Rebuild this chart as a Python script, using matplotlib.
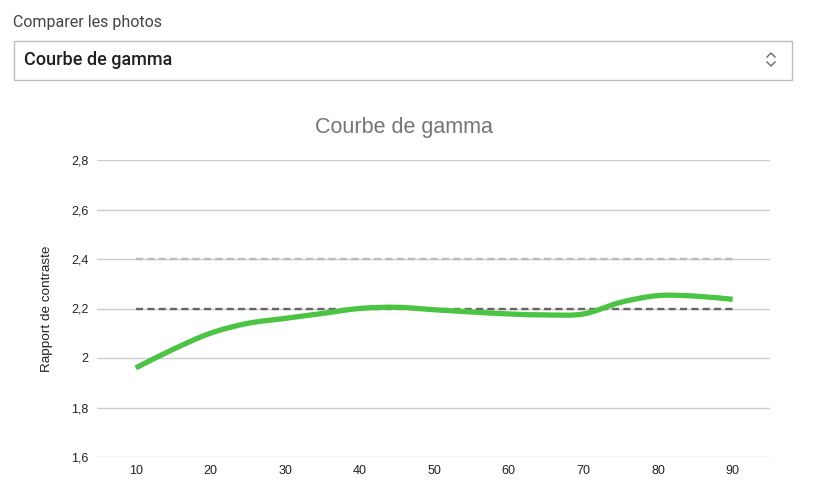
import matplotlib.pyplot as plt
from matplotlib.path import Path
from matplotlib.patches import PathPatch, FancyBboxPatch
from matplotlib.lines import Line2D
import numpy as np

# Données
x_vals = [10, 15, 20, 25, 30, 35, 40, 45, 50, 55, 60, 65, 70, 75, 80, 85, 90]
gamma = [1.96, 2.035, 2.10, 2.14, 2.16, 2.18, 2.20, 2.205, 2.195, 2.186,
         2.178, 2.174, 2.178, 2.225, 2.252, 2.25, 2.237]
ref_haute = 2.4
ref_basse = 2.2
y_ticks = [1.6, 1.8, 2.0, 2.2, 2.4, 2.6, 2.8]
y_labels = ["1,6", "1,8", "2", "2,2", "2,4", "2,6", "2,8"]
x_ticks = [10, 20, 30, 40, 50, 60, 70, 80, 90]

W, H = 834, 488
fig = plt.figure(figsize=(W / 100, H / 100), dpi=100)

# En-tête de la page
fig.text(13 / W, 1 - 23 / H, "Comparer les photos", fontsize=11.5,
         family="Roboto", color="#444444", va="center", ha="left")
box = FancyBboxPatch((13.5 / W, 1 - 79.5 / H), 778 / W, 39 / H,
                     boxstyle="square,pad=0", transform=fig.transFigure,
                     facecolor="white", edgecolor="#bdbdbd", linewidth=1)
fig.patches.append(box)
fig.text(24 / W, 1 - 60 / H, "Courbe de gamma", fontsize=13,
         family="Roboto", weight="medium", color="#212121",
         va="center", ha="left")
# petite icône de sélection (chevrons)
for ys in [(57, 53, 57), (62, 66, 62)]:
    fig.add_artist(Line2D([767 / W, 771 / W, 775 / W],
                          [1 - ys[0] / H, 1 - ys[1] / H, 1 - ys[2] / H],
                          transform=fig.transFigure, color="#757575",
                          linewidth=1.1))

# Zone du graphique
ax = fig.add_axes([97 / W, 1 - 457 / H, 673 / W, 297 / H])
ax.set_xlim(4.8, 95)
ax.set_ylim(1.6, 2.8)

for t in y_ticks:
    ax.axhline(t, color="#cccccc", linewidth=1, zorder=0)

ax.plot([x_vals[0], x_vals[-1]], [ref_haute, ref_haute], color="#bbbbbb",
        linewidth=1.7, dashes=(3.0, 1.8), zorder=2)
ax.plot([x_vals[0], x_vals[-1]], [ref_basse, ref_basse], color="#666666",
        linewidth=1.7, dashes=(3.0, 1.8), zorder=2)

# Courbe lissée (Bézier de type Catmull-Rom passant par les points)
px = np.array(x_vals, dtype=float)
py = np.array(gamma, dtype=float)
verts = [(px[0], py[0])]
codes = [Path.MOVETO]
k = 0.5 / 3
for i in range(len(px) - 1):
    x0, y0 = (px[i - 1], py[i - 1]) if i > 0 else (px[i], py[i])
    x3, y3 = (px[i + 2], py[i + 2]) if i + 2 < len(px) else (px[i + 1], py[i + 1])
    c1 = (px[i] + (px[i + 1] - x0) * k, py[i] + (py[i + 1] - y0) * k)
    c2 = (px[i + 1] - (x3 - px[i]) * k, py[i + 1] - (y3 - py[i]) * k)
    verts += [c1, c2, (px[i + 1], py[i + 1])]
    codes += [Path.CURVE4] * 3
ax.add_patch(PathPatch(Path(verts, codes), facecolor="none",
                       edgecolor="#4cc443", linewidth=3.8, zorder=3,
                       capstyle="butt"))

ax.set_xticks(x_ticks)
ax.set_xticklabels([str(v) for v in x_ticks])
ax.set_yticks(y_ticks)
ax.set_yticklabels(y_labels)
ax.tick_params(length=0, labelsize=9, labelcolor="#222222", pad=6)
for lab in ax.get_xticklabels() + ax.get_yticklabels():
    lab.set_family("Liberation Sans")
for s in ax.spines.values():
    s.set_visible(False)

ax.set_ylabel("Rapport de contraste", fontsize=9.7, family="Liberation Sans",
              color="#222222", labelpad=13)
fig.text(404 / W, 1 - 127 / H, "Courbe de gamma", fontsize=15.5,
         family="Liberation Sans", color="#757575", ha="center", va="center")

plt.savefig("out.png", dpi=100)
